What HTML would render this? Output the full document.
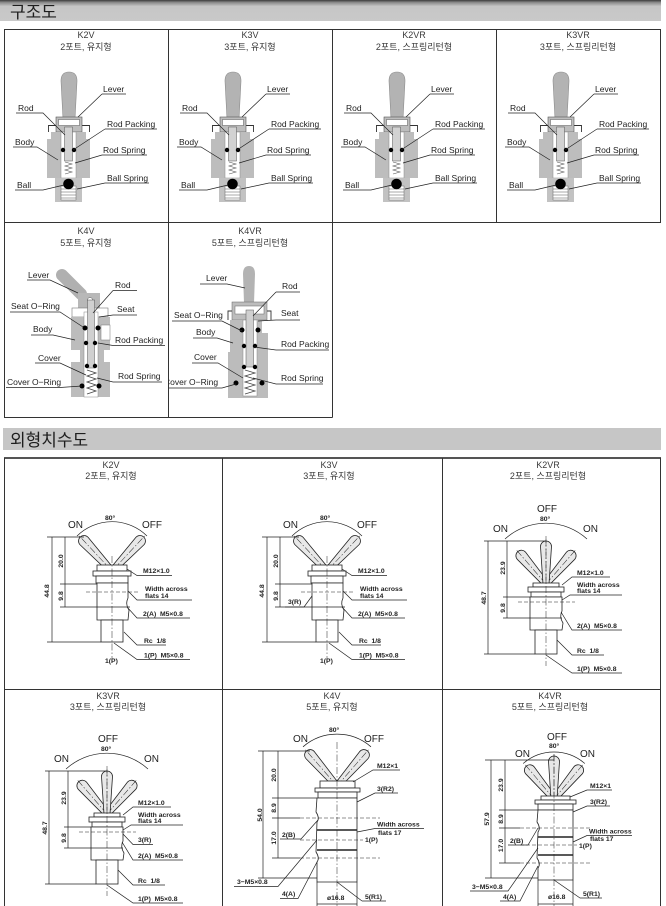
<!DOCTYPE html>
<html><head><meta charset="utf-8">
<style>
html,body{margin:0;padding:0;background:#fff;}
svg{display:block;}
text{font-family:"Liberation Sans","Noto Sans CJK KR",sans-serif;}
.h{font-size:17px;fill:#1e1e1e;}
.ti{font-size:9px;fill:#3a3a3a;text-anchor:middle;}
.lb{font-size:8.5px;fill:#222;}
.d{font-size:6.8px;font-weight:bold;fill:#222;}
.o{font-size:10px;fill:#222;}
.ln{stroke:#222;stroke-width:0.7;fill:none;}
.tl{stroke:#333;stroke-width:1;fill:none;}
.bd{stroke:#222;stroke-width:0.8;fill:#fff;}
.cl{stroke:#222;stroke-width:0.5;stroke-dasharray:7,2,1.5,2;fill:none;}
.dl{stroke:#222;stroke-width:0.5;stroke-dasharray:4,2;fill:none;}
.bn{stroke:#222;stroke-width:1.6;fill:none;}
</style></head><body>
<svg width="666" height="906" viewBox="0 0 666 906" xmlns="http://www.w3.org/2000/svg">
<defs>
<linearGradient id="hb" x1="0" y1="0" x2="0" y2="1">
<stop offset="0" stop-color="#3c3c3c"/><stop offset="0.12" stop-color="#8c8c8c"/><stop offset="0.3" stop-color="#c6c6c6"/><stop offset="1" stop-color="#c9c9c9"/>
</linearGradient>
<clipPath id="c4vr"><rect x="169" y="223" width="163" height="194"/></clipPath>
<g id="sv">
 <path d="M63,119 L61,81 Q61,72 69,72 Q77,72 77,81 L75,119 Z" fill="#b3b3b3" stroke="#8c8c8c" stroke-width="0.6"/>
 <path d="M48.5,132 V125.5 H56 M89.5,132 V125.5 H82" fill="none" stroke="#333" stroke-width="0.9"/>
 <rect x="56" y="117" width="26" height="15" fill="#bdbdbd" stroke="#555" stroke-width="0.6"/>
 <rect x="58.5" y="119.5" width="21" height="6" fill="#fff" stroke="#555" stroke-width="0.5"/>
 <path d="M51,132 H86 V139 H90 V178 H47 V139 H51 Z" fill="#bdbdbd"/>
 <rect x="61" y="132" width="15" height="46" fill="#fff" stroke="#888" stroke-width="0.5"/>
 <rect x="64.5" y="127" width="8" height="34" fill="#d2d2d2" stroke="#555" stroke-width="0.5"/>
 <path d="M65,162 L72,164 L65,166 L72,168 L65,170 L72,172 L65,174" fill="none" stroke="#555" stroke-width="0.6"/>
 <rect x="55" y="178" width="27" height="24" fill="#c2c2c2"/>
 <rect x="61" y="186" width="15" height="14" fill="#fff" stroke="#666" stroke-width="0.5"/>
 <path d="M61,189 H76 M61,192 H76 M61,195 H76 M61,198 H76" stroke="#555" stroke-width="0.5"/>
 <circle cx="63" cy="150" r="2.2" fill="#000"/>
 <circle cx="74" cy="150" r="2.2" fill="#000"/>
 <circle cx="68.5" cy="184" r="5.3" fill="#000"/>
 <path d="M102,94 H126 M102,94 L78,117 M16,113 H43 L65,135 M105,129 H157 M105,129 L73,150 M13,147 H37 L58,160 M102,155 H147 M102,155 L75,163 M105,183 H149 M105,183 L77,189 M15,190 H43 L64,185" fill="none" stroke="#222" stroke-width="0.7"/>
</g>
<g id="lv"><path d="M-3,0 L-5.5,-41 A5.5,5.5 0 0 1 5.5,-41 L3,0 Z" fill="#e8e8e8" stroke="#222" stroke-width="0.8"/><line x1="0" y1="0" x2="0" y2="-48" stroke="#222" stroke-width="0.5" stroke-dasharray="7,2,1.5,2"/></g>
<g id="lv2"><path d="M-3,0 L-5.5,-37.5 A5.5,5.5 0 0 1 5.5,-37.5 L3,0 Z" fill="#e8e8e8" stroke="#222" stroke-width="0.8"/><line x1="0" y1="0" x2="0" y2="-45" stroke="#222" stroke-width="0.5" stroke-dasharray="7,2,1.5,2"/></g>
<g id="k2d">
 <path d="M77,536 A50,50 0 0 1 147,536" fill="none" stroke="#222" stroke-width="0.7"/>
 <use href="#lv" transform="translate(112,571) rotate(-43)"/>
 <use href="#lv" transform="translate(112,571) rotate(43)"/>
 <rect x="97" y="565" width="30" height="6" fill="#fff" stroke="#222" stroke-width="0.8"/>
 <rect x="93" y="571" width="38" height="5" fill="#fff" stroke="#222" stroke-width="0.8"/>
 <rect x="96" y="576" width="32" height="7" fill="#fff" stroke="#222" stroke-width="0.8"/>
 <path d="M97,583 H128 V598 Q125,604 129,610 L128,620 H97 Z" fill="#fff" stroke="#222" stroke-width="0.8"/>
 <rect x="101" y="620" width="22" height="22" fill="#fff" stroke="#222" stroke-width="0.8"/>
 <line x1="86" y1="592" x2="138" y2="592" stroke="#222" stroke-width="0.5" stroke-dasharray="4,2"/>
 <line x1="112" y1="556" x2="112" y2="664" stroke="#222" stroke-width="0.5" stroke-dasharray="7,2,1.5,2"/>
 <path d="M52,537 V642 M65,537 V607 M47,537 H84 M60,584 H97 M60,607 H130 M47,642 H101" fill="none" stroke="#222" stroke-width="0.7"/>
 <path d="M127,569 L137,575.5 H172 M128,591 L137,600 H192 M127,607 L137,618 H190 M124,632 L137,645 H166 M114,643 L137,659.5 H190" fill="none" stroke="#222" stroke-width="0.7"/>
</g>
<g id="k2r">
 <path d="M505,539 A61,61 0 0 1 587,539" fill="none" stroke="#222" stroke-width="0.7"/>
 <use href="#lv2" transform="translate(546,584) rotate(-41)"/>
 <use href="#lv2" transform="translate(546,584) rotate(41)"/>
 <use href="#lv2" transform="translate(546,584)"/>
 <rect x="533" y="583" width="26" height="4" fill="#fff" stroke="#222" stroke-width="0.8"/>
 <rect x="528" y="587" width="36" height="5" fill="#fff" stroke="#222" stroke-width="0.8"/>
 <rect x="531" y="592" width="30" height="5" fill="#fff" stroke="#222" stroke-width="0.8"/>
 <path d="M530,597 H562 V611 Q559,617 563,623 L562,630 H530 Z" fill="#fff" stroke="#222" stroke-width="0.8"/>
 <rect x="535" y="630" width="22" height="24" fill="#fff" stroke="#222" stroke-width="0.8"/>
 <line x1="518" y1="602" x2="575" y2="602" stroke="#222" stroke-width="0.5" stroke-dasharray="4,2"/>
 <line x1="546" y1="536" x2="546" y2="666" stroke="#222" stroke-width="0.5" stroke-dasharray="7,2,1.5,2"/>
 <path d="M488,541 V654 M507,541 V618 M484,541 H546 M503,597 H530 M503,618 H562 M484,654 H535" fill="none" stroke="#222" stroke-width="0.7"/>
 <path d="M562,585 L572,577 H610 M562,600 L570,595 H622 M561,612 L572,630 H622 M557,640 L572,655 H604 M546,655 L572,673 H622" fill="none" stroke="#222" stroke-width="0.7"/>
</g>
</defs>

<!-- header 1 -->
<rect x="0" y="0" width="661" height="21" fill="url(#hb)"/>
<text class="h" x="10" y="18">구조도</text>

<!-- box 1 grid -->
<path class="tl" d="M4.5,29.5 H660.5 V222.5 H4.5 Z"/>
<path class="tl" d="M168.5,29.5 V417.5 M332.5,29.5 V417.5 M496.5,29.5 V222.5 M4.5,222.5 V417.5 H332.5"/>

<!-- structure row 1 -->
<use href="#sv"/>
<use href="#sv" transform="translate(164,0)"/>
<use href="#sv" transform="translate(328,0)"/>
<use href="#sv" transform="translate(492,0)"/>

<g>
<text class="ti" x="86" y="38">K2V</text>
<text class="ti" x="86" y="50">2포트, 유지형</text>
<text class="lb" x="103" y="92">Lever</text>
<text class="lb" x="18" y="111">Rod</text>
<text class="lb" x="107" y="127">Rod Packing</text>
<text class="lb" x="15" y="145">Body</text>
<text class="lb" x="103" y="153">Rod Spring</text>
<text class="lb" x="107" y="181">Ball Spring</text>
<text class="lb" x="17" y="188">Ball</text>
</g>
<g transform="translate(164,0)">
<text class="ti" x="86" y="38">K3V</text>
<text class="ti" x="86" y="50">3포트, 유지형</text>
<text class="lb" x="103" y="92">Lever</text>
<text class="lb" x="18" y="111">Rod</text>
<text class="lb" x="107" y="127">Rod Packing</text>
<text class="lb" x="15" y="145">Body</text>
<text class="lb" x="103" y="153">Rod Spring</text>
<text class="lb" x="107" y="181">Ball Spring</text>
<text class="lb" x="17" y="188">Ball</text>
</g>
<g transform="translate(328,0)">
<text class="ti" x="86" y="38">K2VR</text>
<text class="ti" x="86" y="50">2포트, 스프링리턴형</text>
<text class="lb" x="103" y="92">Lever</text>
<text class="lb" x="18" y="111">Rod</text>
<text class="lb" x="107" y="127">Rod Packing</text>
<text class="lb" x="15" y="145">Body</text>
<text class="lb" x="103" y="153">Rod Spring</text>
<text class="lb" x="107" y="181">Ball Spring</text>
<text class="lb" x="17" y="188">Ball</text>
</g>
<g transform="translate(492,0)">
<text class="ti" x="86" y="38">K3VR</text>
<text class="ti" x="86" y="50">3포트, 스프링리턴형</text>
<text class="lb" x="103" y="92">Lever</text>
<text class="lb" x="18" y="111">Rod</text>
<text class="lb" x="107" y="127">Rod Packing</text>
<text class="lb" x="15" y="145">Body</text>
<text class="lb" x="103" y="153">Rod Spring</text>
<text class="lb" x="107" y="181">Ball Spring</text>
<text class="lb" x="17" y="188">Ball</text>
</g>

<!-- K4V structure -->
<g>
<line x1="62" y1="275" x2="81" y2="294" stroke="#b0b0b0" stroke-width="12" stroke-linecap="round"/>
<rect x="78" y="293" width="22" height="16" fill="#b8b8b8"/>
<circle cx="90" cy="300" r="2.5" fill="#fff" stroke="#555" stroke-width="0.5"/>
<rect x="72" y="308" width="36" height="9" fill="#fff" stroke="#777" stroke-width="0.6"/>
<path d="M71,317 H110 V350 H104 V362 H110 V397 H71 V362 H80 V350 H71 Z" fill="#bcbcbc"/>
<rect x="101" y="325" width="9" height="15" fill="#fff" stroke="#777" stroke-width="0.5"/>
<rect x="84" y="312" width="14" height="85" fill="#fff" stroke="#888" stroke-width="0.5"/>
<rect x="87.5" y="300" width="7" height="68" fill="#d0d0d0" stroke="#555" stroke-width="0.5"/>
<path d="M87,370 L96,373 L87,376 L96,379 L87,382 L96,385 L87,388 L96,391 L87,394" fill="none" stroke="#444" stroke-width="0.8"/>
<circle cx="85" cy="328" r="2.5"/><circle cx="98" cy="328" r="2.5"/>
<circle cx="86" cy="343" r="2.2"/><circle cx="95" cy="343" r="2.2"/>
<circle cx="87" cy="366" r="2.2"/><circle cx="95" cy="366" r="2.2"/>
<circle cx="82" cy="386" r="2.5"/><circle cx="99" cy="386" r="2.5"/>
<path class="ln" d="M27,280 H50 L78,293 M113,290.5 H137 M113,290.5 L93,313 M10,312 H60 L83,327 M113,315 H137 M113,315 L99,317 M31,335 H53 L75,340 M113,345.5 H165 M113,345.5 L98,343 M35,363 H60 L86,375 M113,382 H162 M113,382 L97,378 M6,387.5 H60 L82,386"/>
<text class="ti" x="86" y="234">K4V</text>
<text class="ti" x="86" y="246">5포트, 유지형</text>
<text class="lb" x="28" y="278">Lever</text>
<text class="lb" x="115" y="288">Rod</text>
<text class="lb" x="11" y="309">Seat O−Ring</text>
<text class="lb" x="117" y="312">Seat</text>
<text class="lb" x="33" y="332">Body</text>
<text class="lb" x="115" y="343">Rod Packing</text>
<text class="lb" x="38" y="361">Cover</text>
<text class="lb" x="118" y="379">Rod Spring</text>
<text class="lb" x="7" y="385">Cover O−Ring</text>
</g>

<!-- K4VR structure -->
<g>
<path d="M244,303 L243,274 Q243,266 249,266 Q255,266 255,274 L254,303 Z" fill="#b3b3b3"/>
<rect x="232" y="302" width="35" height="18" fill="#bdbdbd" stroke="#666" stroke-width="0.5"/>
<rect x="235" y="306" width="29" height="8" fill="#fff" stroke="#666" stroke-width="0.5"/>
<path d="M228,320 V311 H232 M271,320 V311 H267" fill="none" stroke="#333" stroke-width="0.9"/>
<path d="M230,320 H268 V398 H228 V352 H230 Z" fill="#bcbcbc"/>
<rect x="262" y="321" width="6" height="12" fill="#fff"/>
<rect x="243" y="320" width="14" height="76" fill="#fff" stroke="#888" stroke-width="0.5"/>
<rect x="246" y="310" width="7.5" height="57" fill="#d0d0d0" stroke="#555" stroke-width="0.5"/>
<path d="M245,370 L255,373 L245,376 L255,379 L245,382 L255,385 L245,388 L255,391 L245,394" fill="none" stroke="#444" stroke-width="0.8"/>
<circle cx="242" cy="330" r="2.5"/><circle cx="258" cy="330" r="2.5"/>
<circle cx="244" cy="346" r="2.2"/><circle cx="255" cy="346" r="2.2"/>
<circle cx="244" cy="367" r="2.2"/><circle cx="255" cy="367" r="2.2"/>
<circle cx="236" cy="383" r="2.5"/><circle cx="262" cy="383" r="2.5"/>
<path class="ln" d="M200,284 H227 L245,288 M276,292 H300 M276,292 L253,316 M172,321 H222 L242,331 M276,320 H300 M276,320 L258,321 M193,338 H217 L233,343 M276,350 H329 M276,350 L254,347 M192,363 H218 L243,378 M276,384 H323 M276,384 L253,378 M169,388 H222 L236,384"/>
<text class="ti" x="250" y="234">K4VR</text>
<text class="ti" x="250" y="246">5포트, 스프링리턴형</text>
<text class="lb" x="206" y="281">Lever</text>
<text class="lb" x="282" y="289">Rod</text>
<text class="lb" x="174" y="318">Seat O−Ring</text>
<text class="lb" x="281" y="316">Seat</text>
<text class="lb" x="196" y="335">Body</text>
<text class="lb" x="281" y="347">Rod Packing</text>
<text class="lb" x="194" y="360">Cover</text>
<text class="lb" x="281" y="381">Rod Spring</text>
<g clip-path="url(#c4vr)"><text class="lb" x="164" y="385">Cover O−Ring</text></g>
</g>

<!-- header 2 -->
<rect x="3" y="428" width="658" height="22" fill="#c6c6c6"/>
<text class="h" x="10" y="446">외형치수도</text>

<!-- box 2 grid -->
<line x1="4" y1="458" x2="661" y2="458" stroke="#555" stroke-width="2"/>
<path class="tl" d="M4.5,458 V906 M222.5,458 V906 M442.5,458 V906 M660.5,458 V906 M4,689.5 H661"/>

<!-- titles box 2 -->
<text class="ti" x="111" y="468">K2V</text>
<text class="ti" x="111" y="479">2포트, 유지형</text>
<text class="ti" x="329" y="468">K3V</text>
<text class="ti" x="329" y="479">3포트, 유지형</text>
<text class="ti" x="548" y="468">K2VR</text>
<text class="ti" x="548" y="479">2포트, 스프링리턴형</text>
<text class="ti" x="108" y="699">K3VR</text>
<text class="ti" x="108" y="710">3포트, 스프링리턴형</text>
<text class="ti" x="332" y="699">K4V</text>
<text class="ti" x="332" y="710">5포트, 유지형</text>
<text class="ti" x="550" y="699">K4VR</text>
<text class="ti" x="550" y="710">5포트, 스프링리턴형</text>

<!-- K2V dims -->
<use href="#k2d"/>
<g>
<text class="o" x="68" y="528">ON</text>
<text class="o" x="142" y="528">OFF</text>
<text class="d" x="105" y="520">80°</text>
<text class="d" x="143" y="573">M12×1.0</text>
<text class="d" x="145" y="591">Width across</text>
<text class="d" x="145" y="598">flats 14</text>
<text class="d" x="143" y="616">2(A)&#160; M5×0.8</text>
<text class="d" x="144" y="643">Rc&#160; 1/8</text>
<text class="d" x="144" y="657.5">1(P)&#160; M5×0.8</text>
<text class="d" x="105" y="663">1(P)</text>
<text class="d" text-anchor="middle" transform="translate(49,591) rotate(-90)">44.8</text>
<text class="d" text-anchor="middle" transform="translate(63,561) rotate(-90)">20.0</text>
<text class="d" text-anchor="middle" transform="translate(63,596) rotate(-90)">9.8</text>
</g>

<!-- K3V dims -->
<use href="#k2d" transform="translate(215,0)"/>
<g transform="translate(215,0)">
<text class="o" x="68" y="528">ON</text>
<text class="o" x="142" y="528">OFF</text>
<text class="d" x="105" y="520">80°</text>
<text class="d" x="143" y="573">M12×1.0</text>
<text class="d" x="145" y="591">Width across</text>
<text class="d" x="145" y="598">flats 14</text>
<text class="d" x="143" y="616">2(A)&#160; M5×0.8</text>
<text class="d" x="144" y="643">Rc&#160; 1/8</text>
<text class="d" x="144" y="657.5">1(P)&#160; M5×0.8</text>
<text class="d" x="105" y="663">1(P)</text>
<text class="d" x="73" y="604">3(R)</text>
<path class="ln" d="M70,607 H89 L97,596"/>
<text class="d" text-anchor="middle" transform="translate(49,591) rotate(-90)">44.8</text>
<text class="d" text-anchor="middle" transform="translate(63,561) rotate(-90)">20.0</text>
<text class="d" text-anchor="middle" transform="translate(63,596) rotate(-90)">9.8</text>
</g>

<!-- K2VR dims -->
<use href="#k2r"/>
<g>
<text class="o" x="537" y="512">OFF</text>
<text class="d" x="540" y="521">80°</text>
<text class="o" x="493" y="532">ON</text>
<text class="o" x="583" y="532">ON</text>
<text class="d" x="577" y="575">M12×1.0</text>
<text class="d" x="577" y="587">Width across</text>
<text class="d" x="577" y="593">flats 14</text>
<text class="d" x="577" y="628">2(A)&#160; M5×0.8</text>
<text class="d" x="577" y="653">Rc&#160; 1/8</text>
<text class="d" x="577" y="671">1(P)&#160; M5×0.8</text>
<text class="d" text-anchor="middle" transform="translate(486,598) rotate(-90)">48.7</text>
<text class="d" text-anchor="middle" transform="translate(505,568) rotate(-90)">23.9</text>
<text class="d" text-anchor="middle" transform="translate(505,608) rotate(-90)">9.8</text>
</g>

<!-- K3VR dims -->
<use href="#k2r" transform="translate(-439,230)"/>
<g transform="translate(-439,230)">
<text class="o" x="537" y="512">OFF</text>
<text class="d" x="540" y="521">80°</text>
<text class="o" x="493" y="532">ON</text>
<text class="o" x="583" y="532">ON</text>
<text class="d" x="577" y="575">M12×1.0</text>
<text class="d" x="577" y="587">Width across</text>
<text class="d" x="577" y="593">flats 14</text>
<text class="d" x="577" y="612">3(R)</text>
<path class="ln" d="M562,604 L572,614.5 H592"/>
<text class="d" x="577" y="628">2(A)&#160; M5×0.8</text>
<text class="d" x="577" y="653">Rc&#160; 1/8</text>
<text class="d" x="577" y="671">1(P)&#160; M5×0.8</text>
<text class="d" text-anchor="middle" transform="translate(486,598) rotate(-90)">48.7</text>
<text class="d" text-anchor="middle" transform="translate(505,568) rotate(-90)">23.9</text>
<text class="d" text-anchor="middle" transform="translate(505,608) rotate(-90)">9.8</text>
</g>

<!-- K4V dims -->
<g>
<path class="ln" d="M303,746.8 A52,52 0 0 1 371,746.8"/>
<use href="#lv" transform="translate(337,786) rotate(-41)"/>
<use href="#lv" transform="translate(337,786) rotate(41)"/>
<rect class="bd" x="320" y="781" width="35" height="7"/>
<rect class="bd" x="315" y="788" width="45" height="4"/>
<rect class="bd" x="318" y="792" width="39" height="6"/>
<path class="bd" d="M317,798 H357 V882 H317 V862 Q320,858 316,852 L317,822 Q320,818 316,812 Z"/>
<path class="bn" d="M317,830 H357 M317,850 H357"/>
<path class="dl" d="M300,818 H380 M300,840 H363 M300,858 H380"/>
<line class="cl" x1="337" y1="742" x2="337" y2="906"/>
<path class="ln" d="M263,751 V878 M278,751 V858 M258,751 H310 M272,798 H317 M272,818 H300 M272,858 H300 M258,878 H317 M317,882 V906 M357,882 V906 M317,904 H357"/>
<path class="ln" d="M353,782 L373,770 H400 M357,802 L375,793 H398 M357,832 L375,828.5 H424 M280,839 H301 L318,820 M234,886.5 H278 L317,840 M280,898.5 H298 L317,862 M362,901 H386 M362,901 L337,882"/>
<text class="o" x="293" y="742">ON</text>
<text class="o" x="364" y="742">OFF</text>
<text class="d" x="329" y="732">80°</text>
<text class="d" x="377" y="768">M12×1</text>
<text class="d" x="377" y="791">3(R2)</text>
<text class="d" x="377" y="826.5">Width across</text>
<text class="d" x="378" y="835">flats 17</text>
<text class="d" x="365" y="842">1(P)</text>
<text class="d" x="282" y="837">2(B)</text>
<text class="d" x="237" y="884">3−M5×0.8</text>
<text class="d" x="282" y="896">4(A)</text>
<text class="d" x="365" y="899">5(R1)</text>
<text class="d" x="327" y="900">ø16.8</text>
<text class="d" text-anchor="middle" transform="translate(262,815) rotate(-90)">54.0</text>
<text class="d" text-anchor="middle" transform="translate(276,775) rotate(-90)">20.0</text>
<text class="d" text-anchor="middle" transform="translate(276,808) rotate(-90)">8.9</text>
<text class="d" text-anchor="middle" transform="translate(276,838) rotate(-90)">17.0</text>
</g>

<!-- K4VR dims -->
<g>
<path class="ln" d="M523.2,763.5 A47,47 0 0 1 584.8,763.5"/>
<use href="#lv2" transform="translate(554,799) rotate(-40)"/>
<use href="#lv2" transform="translate(554,799) rotate(40)"/>
<use href="#lv2" transform="translate(554,799)"/>
<rect class="bd" x="541" y="796" width="29" height="4"/>
<rect class="bd" x="535" y="800" width="41" height="4"/>
<rect class="bd" x="538" y="804" width="35" height="6"/>
<path class="bd" d="M538,810 H573 V880 H538 V868 Q541,864 537,858 L538,832 Q541,828 537,822 Z"/>
<path class="bn" d="M538,837 H573 M538,855 H573"/>
<path class="dl" d="M520,828 H590 M520,845 H577 M520,863 H590"/>
<line class="cl" x1="554" y1="754" x2="554" y2="906"/>
<path class="ln" d="M491,760 V878 M505,760 V863 M485,760 H554 M499,810 H538 M499,828 H520 M499,863 H520 M485,878 H538 M538,880 V906 M573,880 V906 M538,904 H573"/>
<path class="ln" d="M570,797 L587,790 H612 M573,812 L587,806 H610 M573,842 L587,835.5 H632 M508,845 H528 L538,828 M470,891 H508 L538,848 M500,901 H520 L538,866 M580,898 H602 M580,898 L554,880"/>
<text class="o" x="547" y="740">OFF</text>
<text class="d" x="549" y="748">80°</text>
<text class="o" x="515" y="757">ON</text>
<text class="o" x="580" y="757">ON</text>
<text class="d" x="590" y="788">M12×1</text>
<text class="d" x="590" y="804">3(R2)</text>
<text class="d" x="589" y="833.5">Width across</text>
<text class="d" x="590" y="841">flats 17</text>
<text class="d" x="579" y="848">1(P)</text>
<text class="d" x="510" y="843">2(B)</text>
<text class="d" x="472" y="889">3−M5×0.8</text>
<text class="d" x="503" y="899">4(A)</text>
<text class="d" x="583" y="896">5(R1)</text>
<text class="d" x="548" y="899">ø16.8</text>
<text class="d" text-anchor="middle" transform="translate(489,819) rotate(-90)">57.9</text>
<text class="d" text-anchor="middle" transform="translate(503,785) rotate(-90)">23.9</text>
<text class="d" text-anchor="middle" transform="translate(503,819) rotate(-90)">8.9</text>
<text class="d" text-anchor="middle" transform="translate(503,845.5) rotate(-90)">17.0</text>
</g>
</svg>
</body></html>
